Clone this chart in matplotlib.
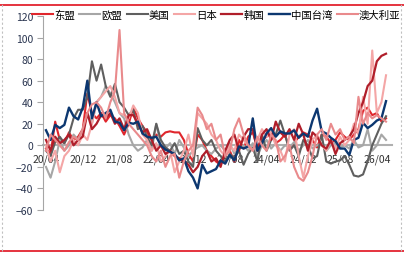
import numpy as np
import matplotlib
matplotlib.use("Agg")
import matplotlib.pyplot as plt
from matplotlib.lines import Line2D

plt.rcParams['font.family'] = ['Noto Sans CJK SC', 'DejaVu Sans']

# monthly, 2020/04 .. 2026/06
months = [f"{(2020 + (3 + i) // 12) % 100:02d}/{(3 + i) % 12 + 1:02d}" for i in range(75)]

asean = [-3, -8, 22, 5, 2, 12, 5, 8, 15, 48, 30, 25, 30, 22, 28, 25, 18, 10, 20, 35,
         25, 18, 12, 5, 10, 8, 12, 13, 12, 12, 5, -8, -15, 10, 5, -5, -10, -15, -18, -8,
         -5, -15, 5, -3, 8, 12, -2, 5, 8, 12, 2, 5, 10, -3, 2, 8, 12, 10, 5, -2,
         10, 8, 2, 5, 12, 8, 5, 10, 15, 32, 35, 28, 30, 22, 25]
eu = [-20, -30, -15, 5, -5, 0, 10, 5, 15, 30, 20, 40, 45, 55, 48, 40, 30, 25, 10, 0,
      -5, -2, 5, -5, 20, 0, -3, 2, -8, 5, -2, -10, -5, -2, 0, -5, -8, -3, 0, -5,
      2, -8, -3, 0, -5, 2, -10, 0, 5, -3, 2, -5, 0, -2, 3, -5, 0, 5, -3, 0,
      2, -5, 0, 3, -2, 0, -3, 5, -2, 0, 15, -5, 0, 10, 5]
usa = [-5, -10, 3, 8, 2, 10, 25, 33, 33, 45, 78, 60, 75, 55, 45, 57, 40, 35, 28, 33,
       15, 18, 8, 0, 20, 5, -2, -5, 2, -8, -5, -15, -20, 16, 5, 0, 5, -5, -10, -15,
       -8, -12, -5, -18, -8, -2, -15, 10, -5, 5, 10, 23, 10, -5, 0, -10, 5, 0, -12, -10,
       10, -15, -17, -15, -14, -10, -18, -28, -29, -27, -15, 0, 10, 20, 27]
japan = [0, -15, -5, -25, -10, -5, 5, 0, 10, 5, 20, 40, 45, 50, 55, 45, 30, 28, 25, 37,
         30, 10, 5, -5, 2, -15, -10, -5, -25, -15, -5, 10, -10, 30, 25, 20, 10, 5, -5, -10,
         0, -5, 10, 5, 0, -5, 5, 15, 8, 12, 0, -5, -15, 10, 15, -10, -30, -10, 5, 10,
         0, -5, 5, -3, 8, 0, 5, 20, 10, 45, 20, 88, 30, 40, 65]
korea = [5, -5, 8, 2, 5, 10, 0, 5, 8, 30, 15, 20, 28, 25, 30, 20, 25, 15, 28, 28,
         20, 12, 15, 5, -5, 0, -8, -5, -10, -12, -15, -18, -25, -20, -10, -5, -15, -12, -20, -5,
         5, 10, -5, 8, 15, 15, -5, 10, 15, 5, 22, 12, 8, 15, 5, 20, 10, -5, 12, 8,
         0, -3, 5, -8, 2, 5, 8, 15, 30, 40, 55, 60, 78, 83, 85]
taiwan = [14, 5, 19, 16, 19, 35, 27, 24, 35, 60, 25, 40, 27, 30, 33, 22, 21, 14, 21, 20,
          22, 11, 8, 7, 8, 0, -4, -6, -8, -14, -12, -24, -30, -40, -18, -26, -24, -22, -14, -17,
          -9, -14, -1, -3, -1, 25, -5, 2, 11, 16, 8, 13, 11, 11, 14, 7, 11, 8, 23, 34,
          13, 11, 7, 4, -3, -3, -9, 5, 7, 21, 16, 19, 23, 25, 41]
australia = [-5, 10, 5, 0, -5, 3, 8, 5, 15, 30, 38, 40, 35, 25, 40, 50, 107, 30, 20, 15,
             10, 5, 0, -10, -15, -5, -20, -10, -8, -30, -15, -5, 0, 35, 28, 15, 20, 5, 10, -10,
             -5, 15, 25, 10, 0, -5, 8, 0, -5, 10, 5, -15, -10, 0, -20, -30, -33, -25, -10, 10,
             15, 5, 20, 10, 15, 5, 8, 2, 45, 20, 30, 25, 28, 25, 22]

names = ['东盟', '欧盟', '美国', '日本', '韩国', '中国台湾', '澳大利亚']
series = [asean, eu, usa, japan, korea, taiwan, australia]
colors = ['#e0262c', '#a6a6a6', '#5f5f5f', '#f4a6a6', '#b01e2a', '#0c3770', '#e98a8c']
widths = [1.5, 1.5, 1.5, 1.5, 1.6, 1.7, 1.5]

fig = plt.figure(figsize=(4.04, 2.55), dpi=100)
ax = fig.add_axes([43 / 404, 1 - 211 / 255, (392 - 43) / 404, (211 - 17) / 255])

x = np.arange(len(months))
for name, vals, c, lw in zip(names, series, colors, widths):
    ax.plot(x, vals, color=c, lw=lw, label=name)

ax.set_xlim(-0.65, 75.3)
ax.set_ylim(-60, 120)
ax.set_yticks(range(-60, 121, 20))

for s in ['top', 'right']:
    ax.spines[s].set_visible(False)
ax.spines['left'].set_color('#a6a6a6')
ax.spines['bottom'].set_position(('data', 0))
ax.spines['bottom'].set_color('#b0b0b0')
ax.spines['bottom'].set_linewidth(1.5)
ax.spines['bottom'].set_zorder(0)

xt = list(range(0, 75, 8))
ax.set_xticks(xt)
ax.set_xticklabels([months[i] for i in xt])
ax.tick_params(axis='x', length=0, pad=6, labelsize=7.5, labelcolor='#333333')
ax.tick_params(axis='y', direction='out', length=4, color='#a6a6a6',
               labelsize=7.5, labelcolor='#2a3550', pad=3)

fig.legend(loc='center', bbox_to_anchor=(0.535, 1 - 16 / 255), ncol=7, frameon=False,
           fontsize=7.5, handlelength=2.0, handletextpad=0.1, columnspacing=0.45,
           borderaxespad=0)

# frame decoration
fig.add_artist(Line2D([0, 1], [1 - 5.5 / 255, 1 - 5.5 / 255], color='#e0101e', lw=1.2))
fig.add_artist(Line2D([0, 1], [1 - 252 / 255, 1 - 252 / 255], color='#e0101e', lw=1.2))
fig.add_artist(Line2D([2 / 404, 2 / 404], [3 / 255, 1 - 5 / 255], color='#c0c0c0', lw=0.8, ls=(0, (2, 2))))
fig.add_artist(Line2D([401 / 404, 401 / 404], [3 / 255, 1 - 5 / 255], color='#c0c0c0', lw=0.8, ls=(0, (2, 2))))

fig.savefig('out.png', dpi=100)
